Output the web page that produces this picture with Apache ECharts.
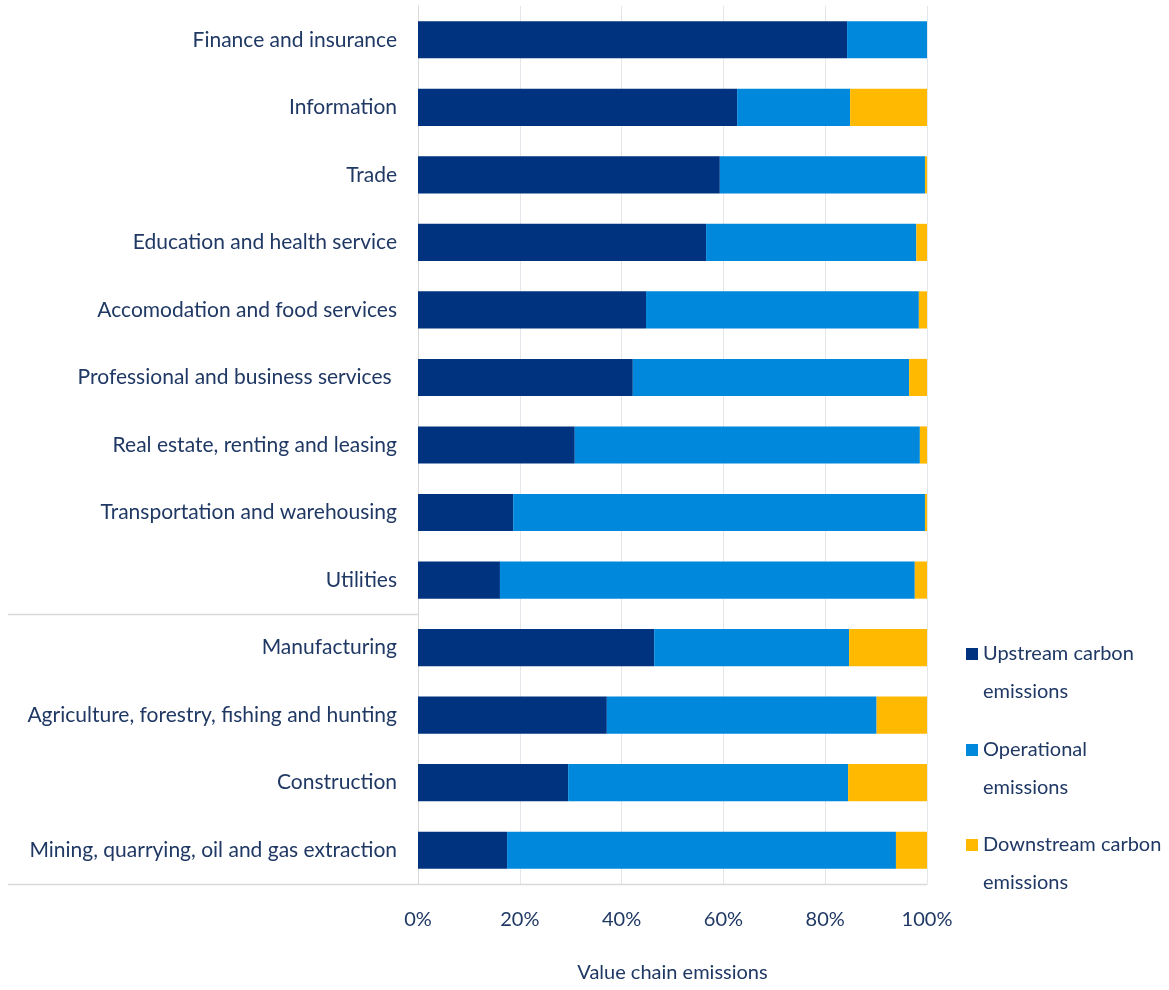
<!DOCTYPE html>
<html>
<head>
<meta charset="utf-8">
<script src="https://cdn.jsdelivr.net/npm/echarts@6/dist/echarts.min.js"></script>
<style>
html,body{margin:0;padding:0;background:#fff;}
#chart{width:1169px;height:990px;}
</style>
</head>
<body>
<div id="chart"></div>
<script>
const categories = [
  'Finance and insurance',
  'Information',
  'Trade',
  'Education and health service',
  'Accomodation and food services',
  'Professional and business services ',
  'Real estate, renting and leasing',
  'Transportation and warehousing',
  'Utilities',
  'Manufacturing',
  'Agriculture, forestry, fishing and hunting',
  'Construction',
  'Mining, quarrying, oil and gas extraction'
];
const upstream    = [84.3, 62.7, 59.3, 56.6, 44.8, 42.2, 30.8, 18.7, 16.1, 46.4, 37.1, 29.5, 17.5];
const operational = [15.7, 22.2, 40.3, 41.3, 53.6, 54.3, 67.8, 80.9, 81.5, 38.3, 53.0, 55.0, 76.4];
const downstream  = [0.0, 15.1, 0.4, 2.1, 1.6, 3.5, 1.4, 0.4, 2.4, 15.3, 9.9, 15.5, 6.1];
const seriesNames = ['Upstream carbon\nemissions', 'Operational\nemissions', 'Downstream carbon\nemissions'];
const xTicks = [0, 20, 40, 60, 80, 100];
const xAxisName = 'Value chain emissions';

const colors = ['#00337f', '#0088dc', '#ffb900'];
const textColor = '#1f3864';
const fontFamily = 'Lato, "Open Sans", sans-serif';

const chart = echarts.init(document.getElementById('chart'), null, {renderer: 'canvas'});

function barSeries(name, data, color) {
  return {
    name: name,
    type: 'bar',
    stack: 'total',
    data: data,
    barWidth: '55%',
    itemStyle: {color: color},
    emphasis: {disabled: true}
  };
}

function legendFor(i, top) {
  return {
    orient: 'vertical',
    left: 961,
    top: top,
    itemWidth: 12,
    itemHeight: 12,
    icon: 'rect',
    selectedMode: false,
    // leading blank line so the marker sits beside the first text line
    formatter: name => '\n' + name,
    textStyle: {color: textColor, fontSize: 20, fontFamily: fontFamily, lineHeight: 38},
    data: [seriesNames[i]]
  };
}

const option = {
  animation: false,
  backgroundColor: '#ffffff',
  grid: {left: 418, right: 242, top: 6, bottom: 106, containLabel: false},
  xAxis: {
    type: 'value',
    min: xTicks[0],
    max: xTicks[xTicks.length - 1],
    interval: 20,
    name: xAxisName,
    nameLocation: 'middle',
    nameGap: 79,
    nameTextStyle: {color: textColor, fontSize: 20, fontFamily: fontFamily},
    axisLine: {show: true, lineStyle: {color: '#d9d9d9', width: 1}},
    axisTick: {show: false},
    axisLabel: {
      color: textColor, fontSize: 20, fontFamily: fontFamily, margin: 26,
      formatter: v => v + '%'
    },
    splitLine: {show: true, lineStyle: {color: '#e3e6ea', width: 1}}
  },
  yAxis: {
    type: 'category',
    inverse: true,
    data: categories,
    axisLine: {show: true, lineStyle: {color: '#d9d9d9', width: 1}},
    axisTick: {show: false},
    axisLabel: {color: textColor, fontSize: 21, fontFamily: fontFamily, margin: 21}
  },
  legend: [legendFor(0, 592), legendFor(1, 688), legendFor(2, 783)],
  series: [
    barSeries(seriesNames[0], upstream, colors[0]),
    barSeries(seriesNames[1], operational, colors[1]),
    barSeries(seriesNames[2], downstream, colors[2])
  ]
};
chart.setOption(option);

// group separator between service sectors and goods-producing sectors, and extended bottom rule
const yAt = c => chart.convertToPixel({yAxisIndex: 0}, c);
const ySep = (yAt(categories[8]) + yAt(categories[9])) / 2;
const yBottom = yAt(categories[12]) + (yAt(categories[12]) - yAt(categories[11])) / 2;
const x0 = chart.convertToPixel({xAxisIndex: 0}, 0);
const x100 = chart.convertToPixel({xAxisIndex: 0}, 100);
chart.setOption({
  graphic: [
    {type: 'line', shape: {x1: 8, y1: Math.round(ySep) + 0.5, x2: x0, y2: Math.round(ySep) + 0.5},
     style: {stroke: '#d9d9d9', lineWidth: 1.5}},
    {type: 'line', shape: {x1: 8, y1: Math.round(yBottom) + 0.5, x2: x100, y2: Math.round(yBottom) + 0.5},
     style: {stroke: '#d9d9d9', lineWidth: 1.5}}
  ]
});
</script>
</body>
</html>
